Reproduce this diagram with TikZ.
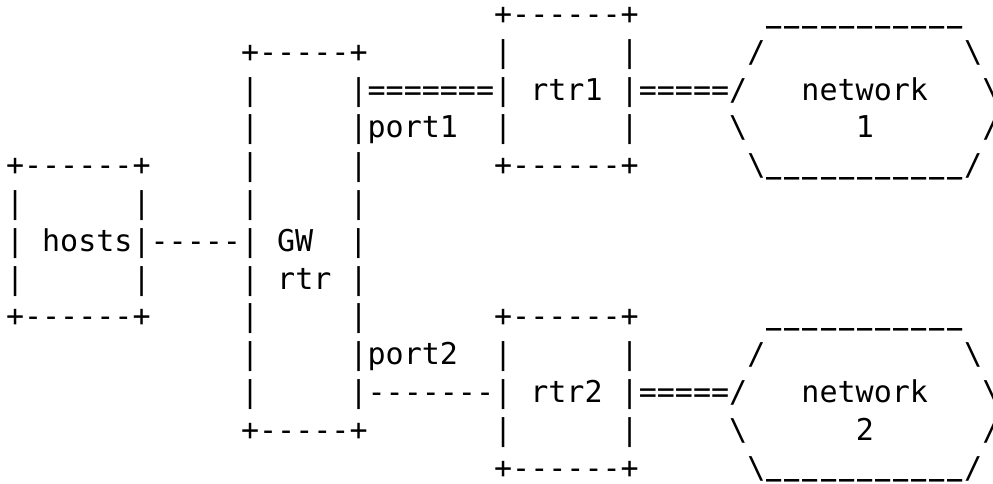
\documentclass[tikz,border=0pt]{standalone}
\usepackage{fontspec}
\setmonofont{DejaVu Sans Mono}
\newlength\cw
\setlength\cw{18.08pt}
\newcommand\sk[1]{\hspace*{#1\cw}}
\newcommand\bs{\textbackslash}
\newcommand\ub{\makebox[\cw]{\smash{\raisebox{11.3pt}{\scalebox{0.84}[2.2]{\textunderscore}}}}}
\newcommand\us{\ub\ub\ub\ub\ub\ub\ub\ub\ub\ub\ub}
\tikzset{asc/.style={anchor=base west, inner sep=0pt, outer sep=0pt, text=black,
  font=\ttfamily\fontsize{30.03pt}{37.8pt}\selectfont}}
\newcommand\Ln[4]{\node[asc] (#1) at ({6+#2*18.08},{-24.4-(#3-1)*37.8}) {#4};}
\begin{document}
\begin{tikzpicture}[x=1pt,y=1pt]
\useasboundingbox[fill=white] (0,0) rectangle (993,-483);
\Ln{l1}{27}{1}{+------+\sk{7}\us}
\Ln{l2}{13}{2}{+-----+\sk{7}|\sk{6}|\sk{6}/\sk{11}\bs}
\Ln{l3}{13}{3}{|\sk{5}|=======|\sk{1}rtr1\sk{1}|=====/\sk{3}network\sk{3}\bs}
\Ln{l4}{13}{4}{|\sk{5}|port1\sk{2}|\sk{6}|\sk{5}\bs\sk{6}1\sk{6}/}
\Ln{l5}{0}{5}{+------+\sk{5}|\sk{5}|\sk{7}+------+\sk{6}\bs\us/}
\Ln{l6}{0}{6}{|\sk{6}|\sk{5}|\sk{5}|}
\Ln{l7}{0}{7}{|\sk{1}hosts|-----|\sk{1}GW\sk{2}|}
\Ln{l8}{0}{8}{|\sk{6}|\sk{5}|\sk{1}rtr\sk{1}|}
\Ln{l9}{0}{9}{+------+\sk{5}|\sk{5}|\sk{7}+------+\sk{7}\us}
\Ln{l10}{13}{10}{|\sk{5}|port2\sk{2}|\sk{6}|\sk{6}/\sk{11}\bs}
\Ln{l11}{13}{11}{|\sk{5}|-------|\sk{1}rtr2\sk{1}|=====/\sk{3}network\sk{3}\bs}
\Ln{l12}{13}{12}{+-----+\sk{7}|\sk{6}|\sk{5}\bs\sk{6}2\sk{6}/}
\Ln{l13}{27}{13}{+------+\sk{6}\bs\us/}
\end{tikzpicture}
\end{document}
